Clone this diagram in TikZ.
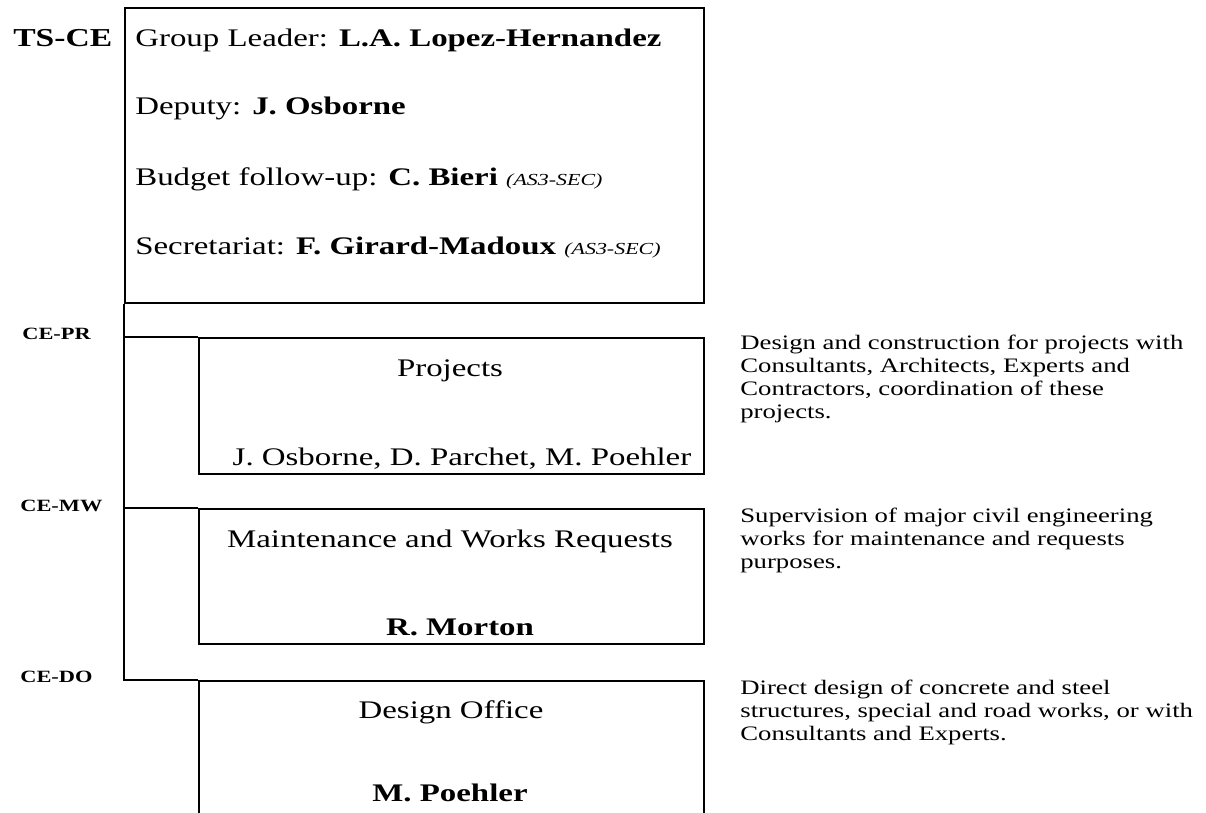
\documentclass[tikz,border=0pt]{standalone}
\usepackage{fontspec}
\setmainfont[FakeStretch=1.3]{Liberation Serif}
\usetikzlibrary{positioning}

\tikzset{
  unitbox/.style={draw, line width=1.1pt, minimum width=10.1cm, anchor=north west, inner sep=0pt},
  bigtxt/.style={font=\fontsize{14.4}{17}\selectfont, inner sep=0pt},
  codetxt/.style={font=\fontsize{9.8}{11}\selectfont\bfseries, inner sep=0pt, anchor=base west},
  desctxt/.style={font=\fontsize{11.7}{13.05}\selectfont, align=left, inner sep=0pt, anchor=base west}
}
\newcommand{\secnote}{{\fontsize{9.6}{11}\selectfont\itshape (AS3-SEC)}}

\begin{document}
\begin{tikzpicture}[x=0.02cm, y=-0.02cm]
    \useasboundingbox (0,0) rectangle (1206,812);
    \clip (0,0) rectangle (1206,812);

    % Group leader frame
    \node[unitbox, minimum width=11.58cm, minimum height=5.9cm] (tsce) at (124,7) {};
    \node[bigtxt, font=\fontsize{14.7}{17}\selectfont\bfseries, anchor=base west] (tscelbl) at (13,46) {TS-CE};
    \node[bigtxt, anchor=base west] (leader) at (135,46) {Group Leader: \textbf{L.A. Lopez-Hernandez}};
    \node[bigtxt, anchor=base west] (deputy) at (135,114) {Deputy: \textbf{J. Osborne}};
    \node[bigtxt, anchor=base west] (budget) at (135,185) {Budget follow-up: \textbf{C. Bieri} \secnote};
    \node[bigtxt, anchor=base west] (secret) at (135,254) {Secretariat: \textbf{F. Girard-Madoux} \secnote};

    % Sections
    \node[unitbox, minimum height=2.72cm] (pr) at (198,337) {};
    \node[unitbox, minimum height=2.7cm] (mw) at (198,508) {};
    \node[unitbox, minimum height=3cm] (do) at (198,680) {};

    % Left frame line to the sections
    \draw[line width=1.1pt] (tsce.south west) -- (tsce.south west |- do.north) -- (do.north west);
    \draw[line width=1.1pt] (tsce.south west |- pr.north) -- (pr.north west);
    \draw[line width=1.1pt] (tsce.south west |- mw.north) -- (mw.north west);

    % Section codes
    \node[codetxt] (prcode) at (22,339) {CE-PR};
    \node[codetxt] (mwcode) at (20,511) {CE-MW};
    \node[codetxt] (docode) at (20,682) {CE-DO};

    % Section titles and staff
    \node[bigtxt, anchor=base] (prtitle) at (450,376) {Projects};
    \node[bigtxt, anchor=base] (prstaff) at (462,465) {J. Osborne, D. Parchet, M. Poehler};
    \node[bigtxt, anchor=base] (mwtitle) at (450,547) {Maintenance and Works Requests};
    \node[bigtxt, anchor=base] (mwstaff) at (460,635) {\textbf{R. Morton}};
    \node[bigtxt, anchor=base] (dotitle) at (451,718) {Design Office};
    \node[bigtxt, anchor=base] (dostaff) at (450,801) {\textbf{M. Poehler}};

    % Descriptions (base is the last line)
    \node[desctxt] (prdesc) at (740,418) {Design and construction for projects with\\Consultants, Architects, Experts and\\Contractors, coordination of these\\projects.};
    \node[desctxt] (mwdesc) at (740,568) {Supervision of major civil engineering\\works for maintenance and requests\\purposes.};
    \node[desctxt] (dodesc) at (740,740) {Direct design of concrete and steel\\structures, special and road works, or with\\Consultants and Experts.};
\end{tikzpicture}
\end{document}
